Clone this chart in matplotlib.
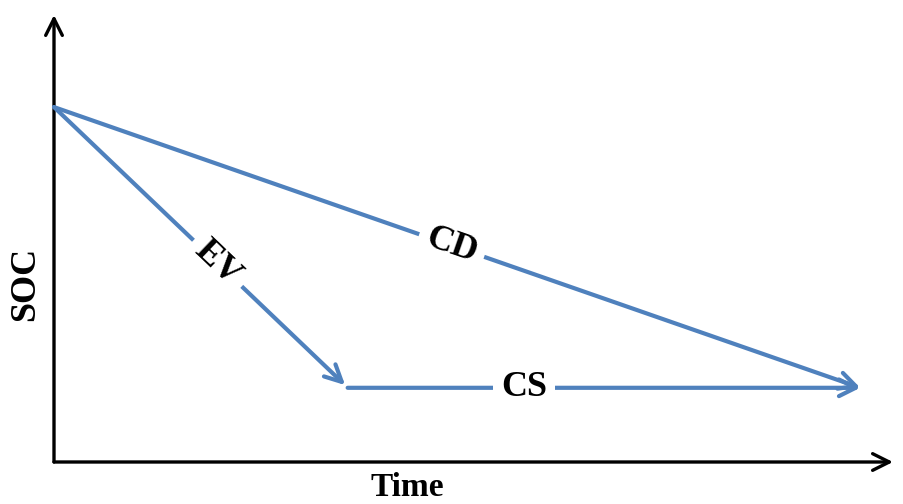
import numpy as np
import matplotlib
matplotlib.use("Agg")
import matplotlib.pyplot as plt

# Mode paths (time, SOC) in axis units
ev_time = [0.0, 0.347]
ev_soc = [0.794, 0.172]
cs_time = [0.350, 0.961]
cs_soc = [0.166, 0.166]
cd_time = [0.0, 0.961]
cd_soc = [0.794, 0.166]

labels = ["EV", "CS", "CD"]
label_pos = [0.195, 0.56, 0.474]   # position along time axis for each label

blue = "#4F81BD"
font = ["Liberation Serif", "DejaVu Serif"]

fig = plt.figure(figsize=(9.04, 5.04), dpi=100)
ax = fig.add_axes([54 / 904, 42 / 504, (893 - 54) / 904, (462 - 15) / 504])
ax.set_xlim(0, 1)
ax.set_ylim(0, 1)
ax.axis("off")

# axes with arrow heads
ax.annotate("", xy=(0, 1), xytext=(0, 0), xycoords="axes fraction",
            arrowprops=dict(arrowstyle="->", lw=2.4, color="black",
                            mutation_scale=30, shrinkA=0, shrinkB=0))
ax.annotate("", xy=(1, 0), xytext=(0, 0), xycoords="axes fraction",
            arrowprops=dict(arrowstyle="->", lw=2.4, color="black",
                            mutation_scale=30, shrinkA=0, shrinkB=0))

paths = [(ev_time, ev_soc), (cs_time, cs_soc), (cd_time, cd_soc)]
for (t, s), lab, lx in zip(paths, labels, label_pos):
    ax.annotate("", xy=(t[1], s[1]), xytext=(t[0], s[0]),
                arrowprops=dict(arrowstyle="->", lw=3, color=blue,
                                mutation_scale=30, shrinkA=0, shrinkB=0))
    # label sits on the line, rotated along it
    ly = np.interp(lx, t, s)
    p0 = ax.transData.transform((t[0], s[0]))
    p1 = ax.transData.transform((t[1], s[1]))
    ang = np.degrees(np.arctan2(p1[1] - p0[1], p1[0] - p0[0]))
    ax.text(lx, ly, lab, rotation=ang, rotation_mode="anchor",
            ha="center", va="center", family=font, fontweight="bold",
            fontsize=26, bbox=dict(facecolor="white", edgecolor="none", pad=6))

fig.text(407 / 904, 1 - 503 / 504, "Time", ha="center", va="bottom",
         family=font, fontweight="bold", fontsize=24)
fig.text(26 / 904, 1 - 284 / 504, "SOC", ha="center", va="center",
         rotation=90, family=font, fontweight="bold", fontsize=26)

fig.savefig("out.png", dpi=100)
